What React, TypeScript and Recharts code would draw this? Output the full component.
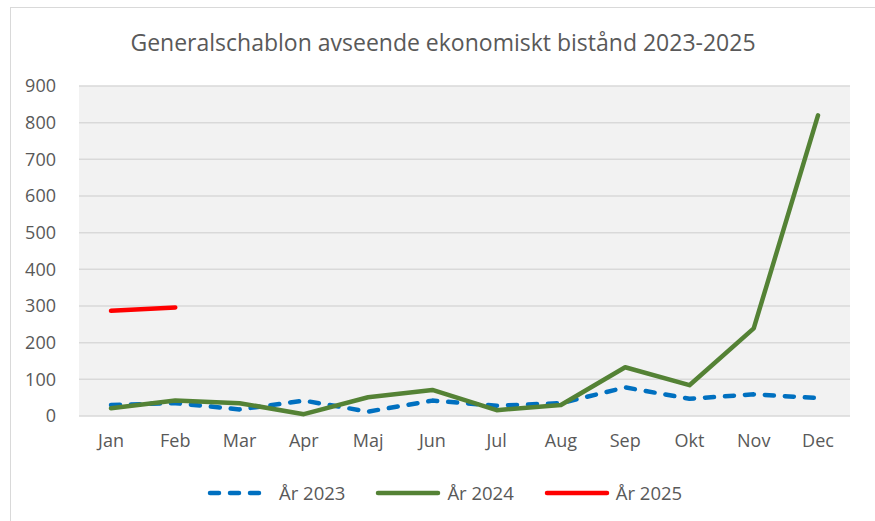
import React from 'react';
import { LineChart, Line, XAxis, YAxis, CartesianGrid } from 'recharts';

const months = ['Jan', 'Feb', 'Mar', 'Apr', 'Maj', 'Jun', 'Jul', 'Aug', 'Sep', 'Okt', 'Nov', 'Dec'];
const year2023 = [30, 35, 18, 42, 12, 42, 28, 35, 78, 47, 59, 49];
const year2024 = [21, 42, 35, 5, 51, 71, 16, 30, 133, 84, 239, 820];
const year2025: (number | null)[] = [287, 296, null, null, null, null, null, null, null, null, null, null];
const yTicks = [0, 100, 200, 300, 400, 500, 600, 700, 800, 900];

const data = months.map((m, i) => ({
  month: m,
  y2023: year2023[i],
  y2024: year2024[i],
  y2025: year2025[i],
}));

const FONT = '"Open Sans", sans-serif';
const TEXT = '#595959';

const series = [
  { key: 'y2023', name: 'År 2023', color: '#0070C0', dash: '9 11' },
  { key: 'y2024', name: 'År 2024', color: '#548235', dash: undefined },
  { key: 'y2025', name: 'År 2025', color: '#FF0000', dash: undefined },
];

const ChartLegend = () => (
  <div style={{ position: 'absolute', left: 0, top: 480, width: 875, display: 'flex', alignItems: 'center', fontFamily: FONT, fontSize: 18.5, color: TEXT }}>
    {series.map((s, i) => (
      <div key={s.key} style={{ display: 'flex', alignItems: 'center', marginLeft: i === 0 ? 207 : 30 }}>
        <svg width={66} height={10}>
          <line x1={3} y1={5} x2={63} y2={5} stroke={s.color} strokeWidth={4.5}
            strokeLinecap="round" strokeDasharray={s.dash} />
        </svg>
        <span style={{ marginLeft: 6 }}>{s.name}</span>
      </div>
    ))}
  </div>
);

export default function App() {
  return (
    <div style={{ position: 'absolute', left: 0, top: 0, width: 875, height: 521, background: '#fff', overflow: 'hidden' }}>
      <div style={{ position: 'absolute', left: 10, top: 7, width: 900, height: 600, borderLeft: '1px solid #d9d9d9', borderTop: '1px solid #d9d9d9' }} />
      <div style={{ position: 'absolute', left: 0, top: 26, width: 886, textAlign: 'center', fontFamily: FONT, fontSize: 23, color: TEXT }}>
        Generalschablon avseende ekonomiskt bistånd 2023-2025
      </div>
      <div style={{ position: 'absolute', left: 0, top: 0 }}>
        <LineChart width={875} height={521} data={data} margin={{ top: 86, right: 25, bottom: 65, left: 0 }}>
          <CartesianGrid vertical={false} stroke="#d9d9d9" strokeWidth={1.5} fill="#f2f2f2" />
          <XAxis dataKey="month" axisLine={false} tickLine={false} tickSize={0} tickMargin={18}
            padding={{ left: 32, right: 32 }} height={40} interval={0}
            tick={{ fill: TEXT, fontSize: 18, fontFamily: FONT }} />
          <YAxis width={79} domain={[0, 900]} ticks={yTicks} axisLine={false} tickLine={false} tickSize={0}
            tickMargin={23} tick={{ fill: TEXT, fontSize: 18, fontFamily: FONT }} />
          {series.map((s) => (
            <Line key={s.key} type="linear" dataKey={s.key} name={s.name} stroke={s.color} strokeWidth={4.5}
              strokeDasharray={s.dash} strokeLinecap="round" strokeLinejoin="round" dot={false}
              activeDot={false} isAnimationActive={false} />
          ))}
        </LineChart>
      </div>
      <ChartLegend />
    </div>
  );
}
